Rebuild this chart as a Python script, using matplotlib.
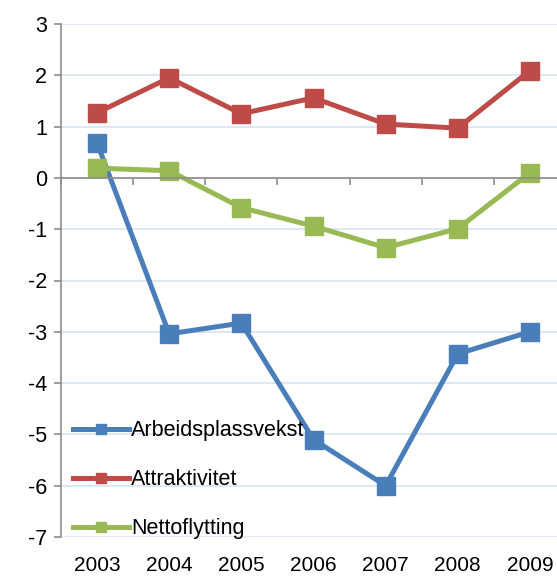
import matplotlib.pyplot as plt

plt.rcParams['font.family'] = ['Liberation Sans', 'DejaVu Sans']

years = ['2003', '2004', '2005', '2006', '2007', '2008', '2009']
arbeid = [0.68, -3.04, -2.83, -5.1, -6.0, -3.43, -3.0]
attrakt = [1.27, 1.95, 1.25, 1.56, 1.05, 0.97, 2.09]
netto = [0.19, 0.14, -0.58, -0.94, -1.36, -0.99, 0.1]

fig = plt.figure(figsize=(5.57, 5.81), dpi=100)
ax = fig.add_axes([61/557, 44/581, 505/557, 513/581])

x = list(range(len(years)))
ax.plot(x, arbeid, color='#4a7ebb', lw=3.6, marker='s', ms=13, label='Arbeidsplassvekst')
ax.plot(x, attrakt, color='#be4b48', lw=3.6, marker='s', ms=13, label='Attraktivitet')
ax.plot(x, netto, color='#98b954', lw=3.6, marker='s', ms=13, label='Nettoflytting')

ax.set_xlim(-0.5, len(years) - 0.5)
ax.set_ylim(-7, 3)
ax.set_yticks(range(-7, 4))
ax.set_yticklabels([str(v) for v in range(-7, 4)], fontsize=15.5)
ax.yaxis.grid(True, color='#d9e3f0', lw=1.2)
ax.set_axisbelow(True)

for s in ['top', 'right']:
    ax.spines[s].set_visible(False)
ax.spines['left'].set_color('#8c8c8c')
ax.spines['left'].set_linewidth(1.2)
ax.spines['bottom'].set_position(('data', 0))
ax.spines['bottom'].set_color('#8c8c8c')
ax.spines['bottom'].set_linewidth(1.2)

ax.set_xticks([i + 0.5 for i in range(-1, len(years))])
ax.set_xticklabels([])
ax.tick_params(axis='x', direction='out', length=5, color='#8c8c8c', width=1.2)
ax.tick_params(axis='y', direction='out', length=5, color='#8c8c8c', width=1.2, pad=5)

for i, yr in enumerate(years):
    ax.text(i, -0.055, yr, transform=ax.get_xaxis_transform(), ha='center', va='center', fontsize=15)

leg = ax.legend(loc='lower left', bbox_to_anchor=(-0.014, -0.042), frameon=False, fontsize=15.5,
                markerscale=0.55, handlelength=2.6, handletextpad=0.1, labelspacing=1.3)

fig.savefig('out.png')
